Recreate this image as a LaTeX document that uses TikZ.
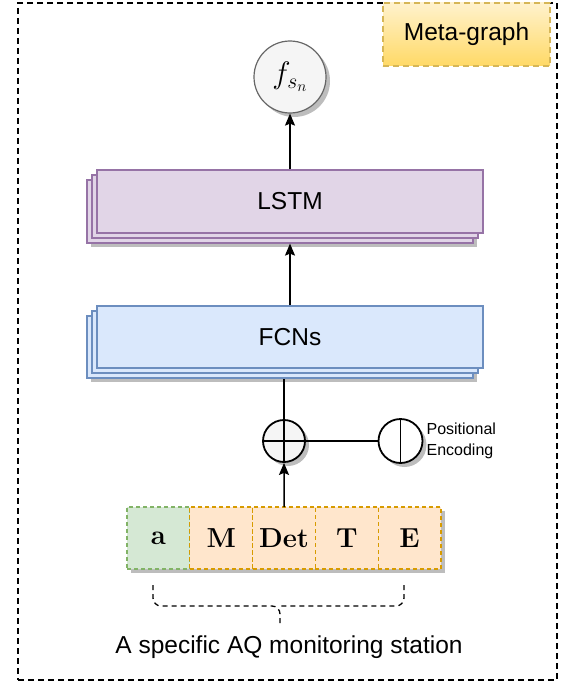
\documentclass[tikz,border=0pt]{standalone}
\usepackage{fix-cm}
\usepackage{fontspec}
\setsansfont{Liberation Sans}
\usetikzlibrary{positioning,shadows,arrows.meta}
\definecolor{lstmfill}{HTML}{E1D5E7}
\definecolor{lstmline}{HTML}{9673A6}
\definecolor{fcnfill}{HTML}{DAE8FC}
\definecolor{fcnline}{HTML}{6C8EBF}
\definecolor{greenfill}{HTML}{D5E8D4}
\definecolor{greenline}{HTML}{82B366}
\definecolor{orangefill}{HTML}{FFE6CC}
\definecolor{orangeline}{HTML}{D79B00}
\definecolor{metatop}{HTML}{FFF2CC}
\definecolor{metabot}{HTML}{FFD966}
\definecolor{metaline}{HTML}{D6B656}
\definecolor{circfill}{HTML}{F5F5F5}
\definecolor{circline}{HTML}{666666}
\definecolor{shade}{HTML}{BDBDBD}

\begin{document}
\begin{tikzpicture}[x=1pt,y=-1pt]
\tikzstyle{shadowed}=[drop shadow={shadow xshift=4pt, shadow yshift=-4pt, fill=shade, opacity=1}]
\tikzstyle{layer}=[rectangle, minimum width=386pt, minimum height=63pt, inner sep=0pt, line width=1.2pt, font=\sffamily\fontsize{24.5}{28}\selectfont]
\tikzstyle{lstmlayer}=[layer, fill=lstmfill, draw=lstmline]
\tikzstyle{fcnlayer}=[layer, minimum height=62pt, fill=fcnfill, draw=fcnline]
\tikzstyle{token}=[rectangle, minimum width=62.8pt, minimum height=62pt, inner sep=0pt, outer sep=0pt, line width=1.2pt, dash pattern=on 4pt off 3pt, shadowed, font=\rmfamily\bfseries\fontsize{27.5}{32}\selectfont]
\tikzstyle{tokg}=[token, fill=greenfill, draw=greenline]
\tikzstyle{toko}=[token, fill=orangefill, draw=orangeline]
\tikzstyle{connect}=[-{Stealth[length=12pt, width=10pt, inset=2pt]}, line width=1.5pt]
\tikzstyle{line}=[line width=1.5pt]
\tikzstyle{opcirc}=[circle, inner sep=0pt, line width=1.8pt, draw=black, shadowed]
\tikzstyle{frame}=[rectangle, draw=black, line width=1.3pt, dash pattern=on 6pt off 4pt]
\useasboundingbox (0,0) rectangle (566,685);
	% outer frame and legend
	\node[frame, minimum width=539pt, minimum height=677pt] (frame) at (287.5,341.5) { };
	\node[rectangle, minimum width=167pt, minimum height=63pt, top color=metatop, bottom color=metabot, draw=metaline, line width=1.2pt, dash pattern=on 6pt off 4pt, font=\sffamily\fontsize{24.5}{28}\selectfont] (meta) at (466.5,34.5) {Meta-graph};
	% output
	\node[circle, minimum size=72pt, inner sep=0pt, fill=circfill, draw=circline, line width=1.2pt, shadowed, font=\fontsize{31}{36}\selectfont] (fsn) at (290,77) {$f_{s_n}$};
	% LSTM stack
	\coordinate (lstmpos) at (290,201.5);
	\node[lstmlayer, shadowed] (lstm3) at ([shift={(-10,10)}]lstmpos) { };
	\node[lstmlayer] (lstm2) at ([shift={(-5,5)}]lstmpos) { };
	\node[lstmlayer] (lstm) at (lstmpos) {LSTM};
	% FCN stack
	\coordinate (fcnpos) at (290,337);
	\node[fcnlayer, shadowed] (fcn3) at ([shift={(-10,10)}]fcnpos) { };
	\node[fcnlayer] (fcn2) at ([shift={(-5,5)}]fcnpos) { };
	\node[fcnlayer] (fcn) at (fcnpos) {FCNs};
	% sum and positional encoding
	\node[opcirc, minimum size=42pt, fill=circfill, path picture={\draw[line width=1.8pt] (path picture bounding box.north) -- (path picture bounding box.south) (path picture bounding box.west) -- (path picture bounding box.east);}] (plus) at (284,441) { };
	\node[opcirc, minimum size=44pt, fill=white, path picture={\draw[line width=1.8pt] (path picture bounding box.north) -- (path picture bounding box.south);}] (pos) at (400.5,441) { };
	\node[anchor=west, align=left, inner sep=0pt, font=\sffamily\fontsize{16}{21}\selectfont] (poslab) [right=3pt of pos] {Positional\\Encoding};
	% input tokens
	\node[tokg] (a) at (158.4,538) {a};
	\node[toko] (m) [right=0pt of a] {M};
	\node[toko] (det) [right=0pt of m] {Det};
	\node[toko] (t) [right=0pt of det] {T};
	\node[toko] (e) [right=0pt of t] {E};
	% brace and caption
	\coordinate (brl) at (153,585);
	\coordinate (brr) at (404,585);
	\coordinate (brtip) at (280,606);
	\node[font=\sffamily\fontsize{24.5}{28}\selectfont, inner sep=0pt] (station) at (289,647) {A specific AQ monitoring station};
	\coordinate (brend) at (280,625);
	\draw[line width=1.3pt, dash pattern=on 5pt off 4pt, rounded corners=8pt] (brl) |- (brtip) -- (brend);
	\draw[line width=1.3pt, dash pattern=on 5pt off 4pt, rounded corners=8pt] (brr) |- (brtip);
	% connectors
	\path (lstm.north) edge [connect] (fsn.south);
	\path (fcn.north) edge [connect] (fcn.north |- lstm3.south);
	\path (plus.north) edge [line] (plus.north |- fcn3.south);
	\path (det.north) edge [connect] (plus.south);
	\path (plus.east) edge [line] (pos.west);
\end{tikzpicture}
\end{document}
